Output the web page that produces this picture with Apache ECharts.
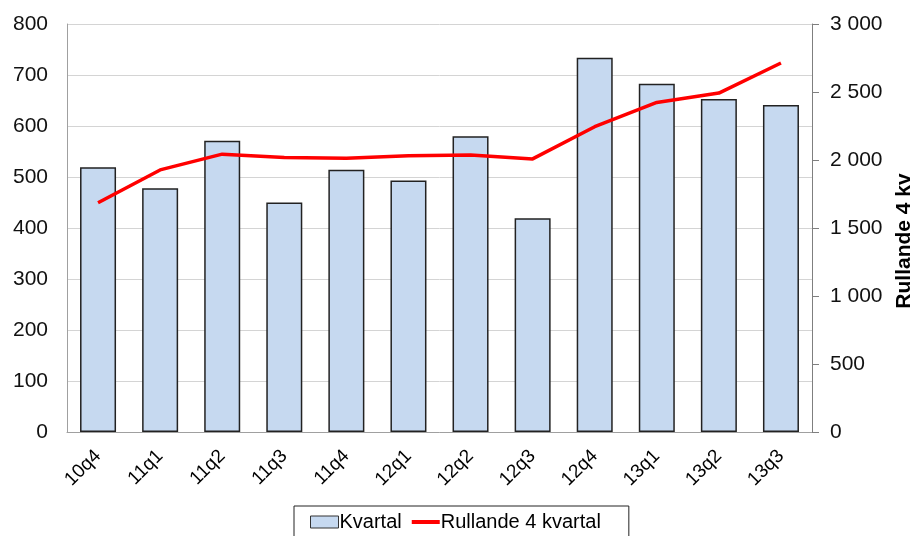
<!DOCTYPE html>
<html>
<head>
<meta charset="utf-8">
<script src="https://cdn.jsdelivr.net/npm/echarts@6/dist/echarts.min.js"></script>
<style>
html,body{margin:0;padding:0;background:#fff;}
#chart{width:917px;height:536px;}
</style>
</head>
<body>
<div id="chart"></div>
<script>
const categories = ['10q4','11q1','11q2','11q3','11q4','12q1','12q2','12q3','12q4','13q1','13q2','13q3'];
const kvartal = [519, 478, 571, 450, 514, 493, 580, 419, 734, 683, 653, 641];
const rullande = [1686, 1927, 2043, 2018, 2013, 2032, 2037, 2008, 2245, 2423, 2492, 2713];
const seriesNames = ['Kvartal', 'Rullande 4 kvartal'];
const rightAxisName = 'Rullande 4 kv';

const font = 'Arial, "Liberation Sans", sans-serif';
const chart = echarts.init(document.getElementById('chart'), null, {renderer: 'canvas'});
chart.setOption({
  animation: false,
  backgroundColor: '#fff',
  textStyle: {fontFamily: font},
  grid: {left: 67, right: 105, top: 24, bottom: 104, containLabel: false, outerBoundsMode: 'none'},
  legend: {
    left: 294, top: 506, width: 335,
    padding: [6, 28, 12, 16],
    borderColor: '#222', borderWidth: 1,
    itemGap: 10, itemWidth: 28, itemHeight: 12,
    textStyle: {fontFamily: font, fontSize: 20, color: '#000', padding: [0,0,0,-4]},
    data: [
      {name: seriesNames[0], icon: 'rect', itemStyle: {color: '#c6d9f0', borderColor: '#333', borderWidth: 1}},
      {name: seriesNames[1], icon: 'path://M0,0 L28,0 L28,4 L0,4 Z', itemStyle: {color: '#ff0000', borderWidth: 0}}
    ]
  },
  xAxis: {
    type: 'category', data: categories,
    axisLine: {lineStyle: {color: '#a0a0a0', width: 1}},
    axisTick: {show: false},
    axisLabel: {rotate: 45, fontSize: 19, color: '#000', margin: 21, fontFamily: font}
  },
  yAxis: [
    {
      type: 'value', min: 0, max: 800, interval: 100,
      axisLine: {show: true, lineStyle: {color: '#a0a0a0'}},
      axisTick: {show: false},
      axisLabel: {fontSize: 21, color: '#111', margin: 19, fontFamily: font},
      splitLine: {lineStyle: {color: '#d4d4d4', width: 1}}
    },
    {
      type: 'value', min: 0, max: 3000, interval: 500, position: 'right',
      axisLine: {show: true, lineStyle: {color: '#7f7f7f'}},
      axisTick: {show: true, length: 7, lineStyle: {color: '#7f7f7f'}},
      axisLabel: {fontSize: 21, color: '#111', margin: 18, fontFamily: font,
        formatter: v => String(v).replace(/\B(?=(\d{3})+(?!\d))/g, ' ')},
      splitLine: {show: false},
      name: rightAxisName, nameLocation: 'middle', nameRotate: 90, nameGap: 81,
      nameTextStyle: {fontSize: 21, fontWeight: 'bold', color: '#000', fontFamily: font, padding: [0, 26, 0, 0]}
    }
  ],
  series: [
    {
      name: seriesNames[0], type: 'bar', data: kvartal, yAxisIndex: 0,
      barWidth: '58%',
      itemStyle: {color: '#c6d9f0', borderColor: '#222', borderWidth: 1.5}
    },
    {
      name: seriesNames[1], type: 'line', data: rullande, yAxisIndex: 1,
      symbol: 'none', lineStyle: {color: '#ff0000', width: 3.5}, itemStyle: {color: '#ff0000'}
    }
  ]
});
</script>
</body>
</html>
